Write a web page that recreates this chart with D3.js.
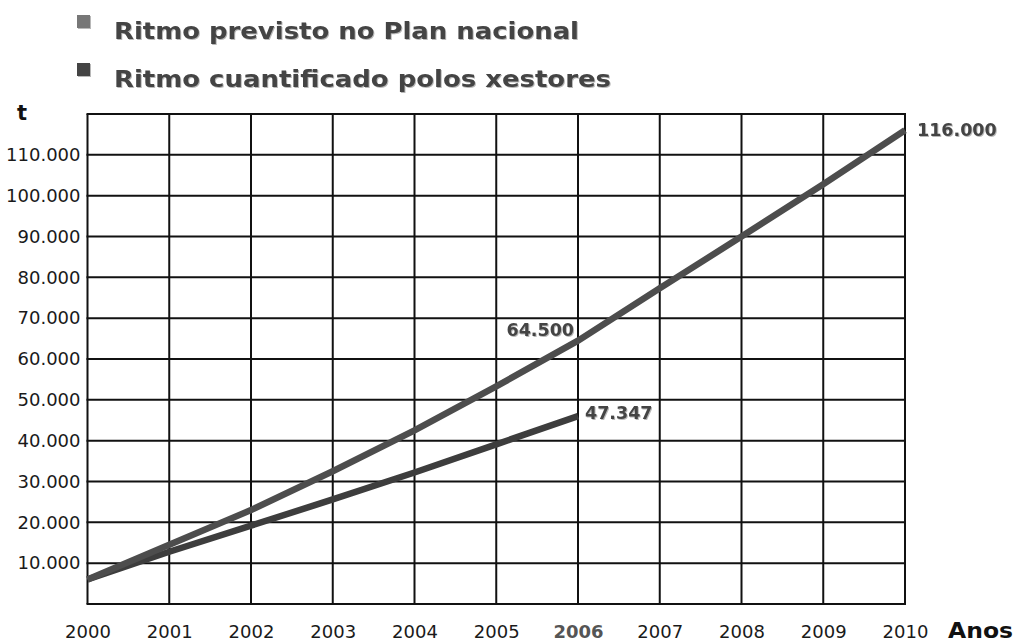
<!DOCTYPE html>
<html>
<head>
<meta charset="utf-8">
<script src="https://cdn.jsdelivr.net/npm/d3@7"></script>
<style>
	body { margin: 0; background: #fff; }
	svg { display: block; font-family: "DejaVu Sans", Verdana, sans-serif; }
	.shadow { filter: drop-shadow(1px 1px 0.6px #b8b8b8); }
</style>
</head>
<body>
<svg id="svg_main" width="1015" height="644"></svg>
<script>
// years on the x axis
var years = [2000, 2001, 2002, 2003, 2004, 2005, 2006, 2007, 2008, 2009, 2010];
// tonnes
var previsto = [6000, 14500, 23000, 32500, 42500, 53300, 64500, 77300, 90000, 102800, 116000];
var cuantificado = [6000, 12800, 19200, 25600, 32200, 39100, 46000];
var yTicks = [10000, 20000, 30000, 40000, 50000, 60000, 70000, 80000, 90000, 100000, 110000];
var yTickLabels = ["10.000", "20.000", "30.000", "40.000", "50.000", "60.000", "70.000", "80.000", "90.000", "100.000", "110.000"];
var legendNames = ["Ritmo previsto no Plan nacional", "Ritmo cuantificado polos xestores"];
var pointLabels = [
	{ text: "116.000", year: 2010, value: 116000 },
	{ text: "64.500", year: 2006, value: 64500 },
	{ text: "47.347", year: 2006, value: 46000 }
];

var margin = { top: 114, right: 110, bottom: 40, left: 87.5 };

function main() {
	var svg = d3.select("#svg_main");
	var W = +svg.attr("width"), H = +svg.attr("height");

	var x = d3.scaleLinear().domain([2000, 2010]).range([margin.left, W - margin.right]),
		y = d3.scaleLinear().domain([0, 120000]).range([H - margin.bottom, margin.top]);

	// grid
	var grid = svg.append("g").attr("class", "grid")
		.attr("stroke", "#111").attr("stroke-width", 2);
	grid.selectAll(".v")
		.data(years)
		.enter().append("line")
		.attr("x1", d => x(d)).attr("x2", d => x(d))
		.attr("y1", y(120000)).attr("y2", y(0));
	grid.selectAll(".h")
		.data([0].concat(yTicks, [120000]))
		.enter().append("line")
		.attr("x1", x(2000) - 1).attr("x2", x(2010) + 1)
		.attr("y1", d => y(d)).attr("y2", d => y(d));

	// y axis labels
	var yAxis = d3.axisLeft(y).tickValues(yTicks).tickSize(0).tickPadding(7)
		.tickFormat((d, i) => yTickLabels[i]);
	svg.append("g")
		.attr("class", "yAxis")
		.attr("transform", `translate(${x(2000)}, 0)`)
		.call(yAxis)
		.call(g => g.select(".domain").remove())
		.selectAll("text")
			.attr("font-family", "DejaVu Sans")
			.attr("font-size", "18px")
			.attr("fill", "#1a1a1a");

	// x axis labels
	var xAxis = d3.axisBottom(x).tickValues(years).tickSize(0).tickPadding(0)
		.tickFormat(d3.format("d"));
	svg.append("g")
		.attr("class", "xAxis")
		.attr("transform", `translate(0, ${H - 6})`)
		.call(xAxis)
		.call(g => g.select(".domain").remove())
		.selectAll("text")
			.attr("dy", "0")
			.attr("font-family", "DejaVu Sans")
			.attr("font-size", "18px")
			.attr("fill", d => d == 2006 ? "#555" : "#1a1a1a")
			.attr("font-weight", d => d == 2006 ? "bold" : "normal");

	// axis titles
	svg.append("text")
		.attr("x", 17).attr("y", 120)
		.attr("font-size", "21px").attr("font-weight", "bold")
		.attr("fill", "#111")
		.text("t");
	svg.append("text")
		.attr("x", 948).attr("y", 638)
		.attr("font-size", "21px").attr("font-weight", "bold")
		.attr("textLength", 65).attr("lengthAdjust", "spacingAndGlyphs")
		.attr("fill", "#111")
		.text("Anos");

	// series
	var line = d3.line()
		.x((d, i) => x(years[i]))
		.y(d => y(d));
	svg.append("path")
		.datum(cuantificado)
		.attr("fill", "none")
		.attr("stroke", "#3d3d3d")
		.attr("stroke-width", 6.5)
		.attr("d", line);
	svg.append("path")
		.datum(previsto)
		.attr("fill", "none")
		.attr("stroke", "#4d4d4d")
		.attr("stroke-width", 6.5)
		.attr("d", line);

	// value labels
	var labs = svg.append("g").attr("class", "shadow");
	labs.append("text")
		.attr("x", x(pointLabels[0].year) + 12).attr("y", y(pointLabels[0].value))
		.attr("dy", "0.35em")
		.text(pointLabels[0].text);
	labs.append("text")
		.attr("x", x(pointLabels[1].year) - 4).attr("y", y(pointLabels[1].value) - 11)
		.attr("dy", "0.35em").attr("text-anchor", "end")
		.text(pointLabels[1].text);
	labs.append("text")
		.attr("x", x(pointLabels[2].year) + 7).attr("y", y(pointLabels[2].value) - 3)
		.attr("dy", "0.35em")
		.text(pointLabels[2].text);
	labs.selectAll("text")
		.attr("font-size", "17.5px").attr("font-weight", "bold")
		.attr("fill", "#444");

	// legend
	var legend = svg.append("g").attr("class", "shadow");
	var squareColors = ["#777", "#444"];
	var legendWidths = [465, 497];
	legendNames.forEach((name, i) => {
		legend.append("rect")
			.attr("x", 77).attr("y", 15 + i * 48)
			.attr("width", 13).attr("height", 13)
			.attr("fill", squareColors[i]);
		legend.append("text")
			.attr("x", 114).attr("y", 39 + i * 48)
			.attr("font-size", "22.5px").attr("font-weight", "bold")
			.attr("textLength", legendWidths[i]).attr("lengthAdjust", "spacingAndGlyphs")
			.attr("fill", "#444")
			.text(name);
	});
}

main();
</script>
</body>
</html>
